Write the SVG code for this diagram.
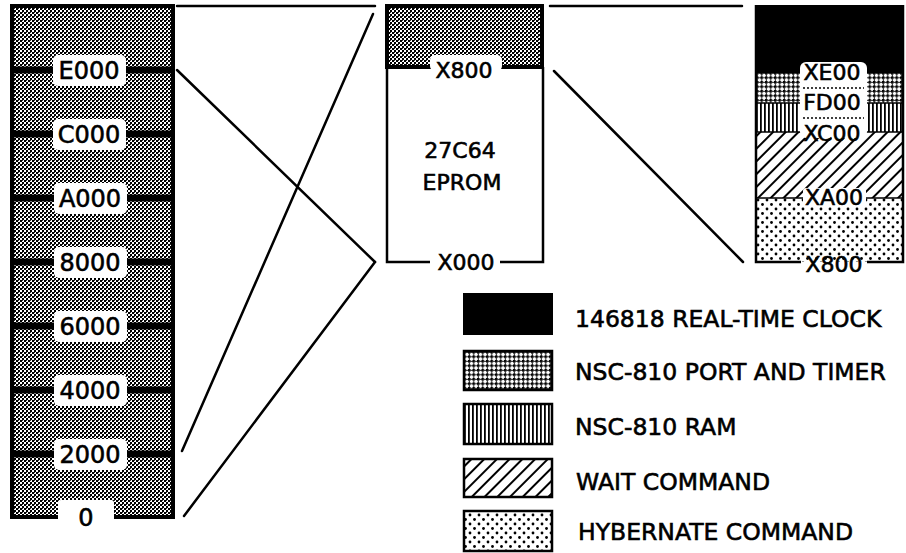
<svg xmlns="http://www.w3.org/2000/svg" width="906" height="553" viewBox="0 0 906 553">
<defs>
  <pattern id="grain" width="4" height="4" patternUnits="userSpaceOnUse">
    <rect width="4" height="4" fill="#fff"/>
    <rect x="0" y="0" width="2" height="2" fill="#000"/>
    <rect x="2" y="2" width="2" height="2" fill="#000"/>
    <rect x="2" y="0" width="1" height="1" fill="#333"/>
  </pattern>
  <pattern id="port" width="4.5" height="4.5" patternUnits="userSpaceOnUse">
    <rect width="4.5" height="4.5" fill="#fff"/>
    <rect x="0" y="0" width="2.5" height="2.5" fill="#000"/>
    <rect x="2.5" y="0.8" width="2" height="0.9" fill="#000"/>
    <rect x="0.8" y="2.5" width="0.9" height="2" fill="#000"/>
  </pattern>
  <pattern id="ram" width="4" height="4" patternUnits="userSpaceOnUse">
    <rect width="4" height="4" fill="#fff"/>
    <rect x="0" y="0" width="1.8" height="4" fill="#000"/>
  </pattern>
  <pattern id="wait" width="9" height="9" patternUnits="userSpaceOnUse" patternTransform="rotate(45)">
    <rect width="9" height="9" fill="#fff"/>
    <rect x="0" y="0" width="2" height="9" fill="#000"/>
  </pattern>
  <pattern id="hyb" width="9" height="9" patternUnits="userSpaceOnUse">
    <rect width="9" height="9" fill="#fff"/>
    <circle cx="2" cy="2" r="1.4" fill="#000"/>
    <circle cx="6.5" cy="6.5" r="1.4" fill="#000"/>
  </pattern>
</defs>
<style>
  text { font-family: "DejaVu Sans", "Liberation Sans", sans-serif; fill: #000; stroke: #000; stroke-width: 0.6; }
  .lbl { font-size: 24px; text-anchor: middle; }
  .sm { font-size: 22px; text-anchor: middle; }
  .leg { font-size: 23.5px; }
  .band { stroke: #000; stroke-width: 7; }
  .wbox { fill: #fff; stroke: none; }
  .conn line { stroke: #000; stroke-width: 2.5; stroke-linecap: round; }
  .thin { fill: none; stroke: #000; stroke-width: 2.5; }
</style>

<g id="left-map">
  <rect x="12" y="6" width="161" height="511" fill="url(#grain)" stroke="#000" stroke-width="4"/>
  <line class="band" x1="12" y1="70" x2="173" y2="70"/>
  <line class="band" x1="12" y1="134" x2="173" y2="134"/>
  <line class="band" x1="12" y1="198" x2="173" y2="198"/>
  <line class="band" x1="12" y1="262" x2="173" y2="262"/>
  <line class="band" x1="12" y1="326" x2="173" y2="326"/>
  <line class="band" x1="12" y1="390" x2="173" y2="390"/>
  <line class="band" x1="12" y1="454" x2="173" y2="454"/>
  <rect class="wbox" x="53" y="55" width="73" height="31" rx="5"/>
  <rect class="wbox" x="53" y="119" width="73" height="31" rx="5"/>
  <rect class="wbox" x="54" y="183" width="73" height="31" rx="5"/>
  <rect class="wbox" x="54" y="247" width="73" height="31" rx="5"/>
  <rect class="wbox" x="54" y="311" width="73" height="31" rx="5"/>
  <rect class="wbox" x="54" y="375" width="73" height="31" rx="5"/>
  <rect class="wbox" x="54" y="439" width="73" height="31" rx="5"/>
  <rect class="wbox" x="58" y="500" width="56" height="25" rx="3"/>
  <text class="lbl" x="89" y="79">E000</text>
  <text class="lbl" x="89" y="143">C000</text>
  <text class="lbl" x="90" y="207">A000</text>
  <text class="lbl" x="90" y="271">8000</text>
  <text class="lbl" x="90" y="335">6000</text>
  <text class="lbl" x="90" y="399">4000</text>
  <text class="lbl" x="90" y="463">2000</text>
  <text class="lbl" x="86" y="526">0</text>
</g>

<g id="eprom">
  <rect x="387" y="6" width="155" height="61" fill="url(#grain)" stroke="#000" stroke-width="4"/>
  <path class="thin" d="M387,67 V262 H430 M500,262 H543 V67"/>
  <rect class="wbox" x="430" y="55" width="72" height="16" rx="5"/>
  <text class="sm" x="464" y="78">X800</text>
  <text class="sm" x="460" y="158">27C64</text>
  <text class="sm" x="462" y="190">EPROM</text>
  <text class="sm" x="466" y="270">X000</text>
</g>

<g id="io-map">
  <rect x="755" y="5" width="148" height="68" fill="#000"/>
  <rect x="755" y="73" width="148" height="30" fill="url(#port)"/>
  <rect x="755" y="103" width="148" height="29" fill="url(#ram)"/>
  <rect x="755" y="132" width="148" height="66" fill="url(#wait)"/>
  <rect x="755" y="198" width="148" height="64" fill="url(#hyb)"/>
  <line x1="755" y1="198" x2="903" y2="198" stroke="#000" stroke-width="1.5"/>
  <line x1="755" y1="103" x2="903" y2="103" stroke="#000" stroke-width="1.5"/>
  <line x1="755" y1="132" x2="903" y2="132" stroke="#000" stroke-width="1.5"/>
  <path class="thin" d="M801,262 H756 V5 M867,262 H903 V5" stroke-width="3"/>
  <rect class="wbox" x="800" y="62" width="67" height="76" rx="6"/>
  <line x1="803" y1="88" x2="864" y2="88" stroke="#000" stroke-width="1.5" stroke-dasharray="2,2"/>
  <line x1="803" y1="118" x2="864" y2="118" stroke="#000" stroke-width="1.5" stroke-dasharray="2,2"/>
  <rect class="wbox" x="803" y="188" width="63" height="19" rx="3"/>
  <text class="sm" x="832" y="80">XE00</text>
  <text class="sm" x="832" y="110">FD00</text>
  <text class="sm" x="832" y="141">XC00</text>
  <text class="sm" x="834" y="205">XA00</text>
  <text class="sm" x="834" y="272">X800</text>
</g>

<g id="legend">
  <g id="legend-clock">
    <rect x="463" y="293" width="90" height="42" fill="#000"/>
    <text class="leg" x="575" y="327">146818 REAL-TIME CLOCK</text>
  </g>
  <g id="legend-port">
    <rect x="464" y="351" width="88" height="39" fill="url(#port)" stroke="#000" stroke-width="2.5"/>
    <text class="leg" x="575" y="380">NSC-810 PORT AND TIMER</text>
  </g>
  <g id="legend-ram">
    <rect x="464" y="404" width="88" height="40" fill="url(#ram)" stroke="#000" stroke-width="2.5"/>
    <text class="leg" x="575" y="435">NSC-810 RAM</text>
  </g>
  <g id="legend-wait">
    <rect x="464" y="459" width="88" height="38" fill="url(#wait)" stroke="#000" stroke-width="2.5"/>
    <text class="leg" x="576" y="490">WAIT COMMAND</text>
  </g>
  <g id="legend-hyb">
    <rect x="464" y="511" width="88" height="40" fill="url(#hyb)" stroke="#000" stroke-width="2.5"/>
    <text class="leg" x="578" y="540">HYBERNATE COMMAND</text>
  </g>
</g>

<g id="connectors" class="conn">
  <line x1="177" y1="6" x2="375" y2="6"/>
  <line x1="550" y1="6" x2="742" y2="6"/>
  <line x1="177" y1="70" x2="375" y2="262"/>
  <line x1="375" y1="262" x2="184" y2="516"/>
  <line x1="373" y1="14" x2="182" y2="451"/>
  <line x1="554" y1="71" x2="743" y2="262"/>
</g>
</svg>
